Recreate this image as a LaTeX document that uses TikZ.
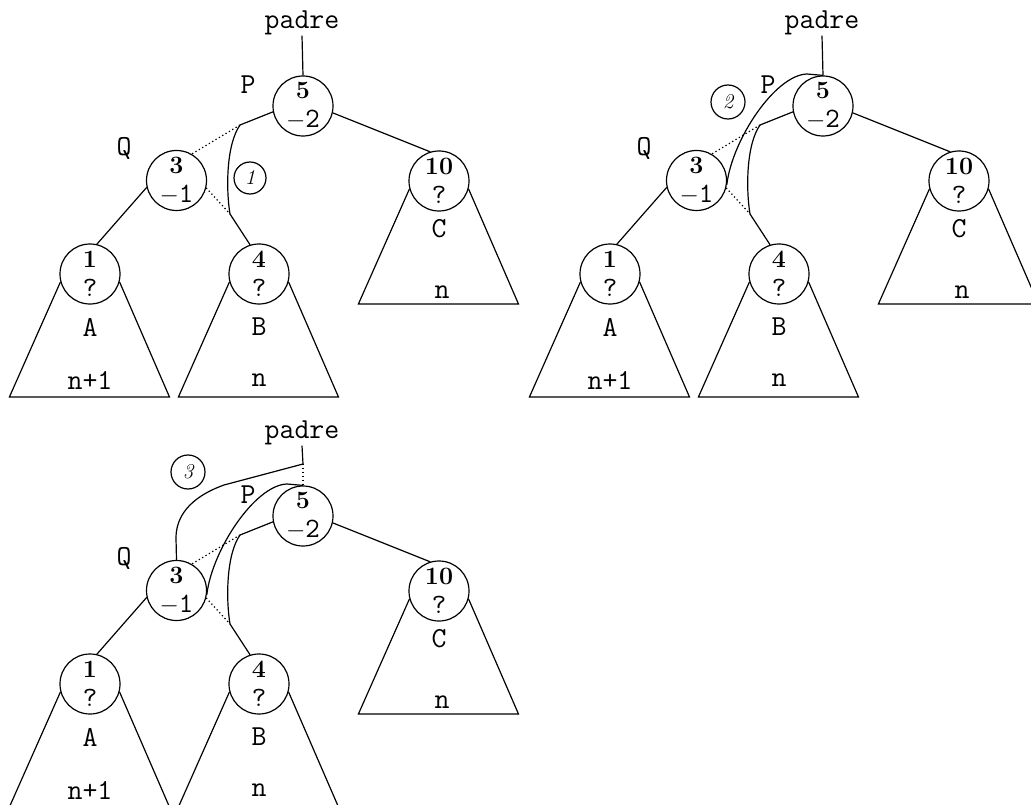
\documentclass[tikz,border=0pt]{standalone}
\usepackage{tikz}
\usetikzlibrary{positioning, calc}

\newcommand{\clave}[1]{{\rmfamily\bfseries\fontsize{25}{29}\selectfont #1}}

\begin{document}
\begin{tikzpicture}[
      x=1pt, y=-1pt, line width=1.2pt,
      nodo/.style={
        circle, draw, minimum size=60pt, inner sep=0pt, align=center,
        font=\ttfamily\fontsize{28}{29}\selectfont
      },
      txt/.style={inner sep=0pt, font=\ttfamily\fontsize{29}{30}\selectfont},
      circnum/.style={
        circle, draw, minimum size=34pt, inner sep=0pt,
        font=\rmfamily\itshape\fontsize{21}{24}\selectfont
      },
      punteado/.style={dash pattern=on 1.3pt off 2.6pt}
    ]
      \path[use as bounding box, fill=white] (0,0) rectangle (1031,805);
      \clip (0,0) rectangle (1031,805);

      % el mismo arbol en los tres pasos
      \foreach \p/\dx/\dy in {a/0/0, b/520/0, c/0/410} {
        \begin{scope}[shift={(\dx,\dy)}, name prefix/.expanded=\p-]
          \node[txt]  (padre) at (302,23)      {padre};
          \node[nodo] (n5)    at (303,106)     {\clave{5}\\$-$2};
          \node[nodo] (n3)    at (176.5,180.5) {\clave{3}\\$-$1};
          \node[nodo] (n10)   at (439,181)     {\clave{10}\\?};
          \node[nodo] (n1)    at (90,274)      {\clave{1}\\?};
          \node[nodo] (n4)    at (259,274)     {\clave{4}\\?};
          \node[txt]  (P)     at (248,85)      {P};
          \node[txt]  (Q)     at (124,148)     {Q};
          \node[txt]  (A)     at (90,327)      {A};
          \node[txt]  (B)     at (259,327)     {B};
          \node[txt]  (C)     at (439,229)     {C};
          \node[txt]  (hA)    at (90,380)      {n+1};
          \node[txt]  (hB)    at (259,380)     {n};
          \node[txt]  (hC)    at (442,292)     {n};
          \coordinate (j1) at (240,125);
          \coordinate (j2) at (230,214);

          \draw (n5.191) -- (j1);
          \draw[punteado] (j1) -- (n3.60);
          \draw[punteado] (n3.-14) -- (j2);
          \draw (n3.193) -- (n1.77);
          \draw (n5.-13) -- (n10.107);
          \foreach \t in {n1, n4, n10}
            \draw (\t.195) -- ++(-51,115) -- ++(160,0) -- (\t.-15);
          % paso 1
          \draw (j1) .. controls (226,145) and (226,190) .. (j2) -- (n4.107);
        \end{scope}
      }

      \begin{scope}[shift={(0,0)}, name prefix=a-]
        \draw (padre.south) -- (n5.north);
        \node[circnum, minimum size=32pt] (c1) at (250,178) {1};
      \end{scope}

      \begin{scope}[shift={(520,0)}, name prefix=b-]
        \draw (padre.south) -- (n5.north);
        \draw (n5.north) -- (287,74) .. controls (255,75) and (212,140) .. (n3.-8);
        \node[circnum] (c2) at (208,102) {2};
      \end{scope}

      \begin{scope}[shift={(0,410)}, name prefix=c-]
        \coordinate (k) at (303,54);
        \draw (padre.south) -- (k);
        \draw[punteado] (k) -- (n5.north);
        \draw (n5.north) -- (287,74) .. controls (255,75) and (212,140) .. (n3.-8);
        \draw (k) -- (224,75) .. controls (188,88) and (176,108) .. (176,128) -- (n3.north);
        \node[circnum] (c3) at (188,62) {3};
      \end{scope}
    \end{tikzpicture}
\end{document}
